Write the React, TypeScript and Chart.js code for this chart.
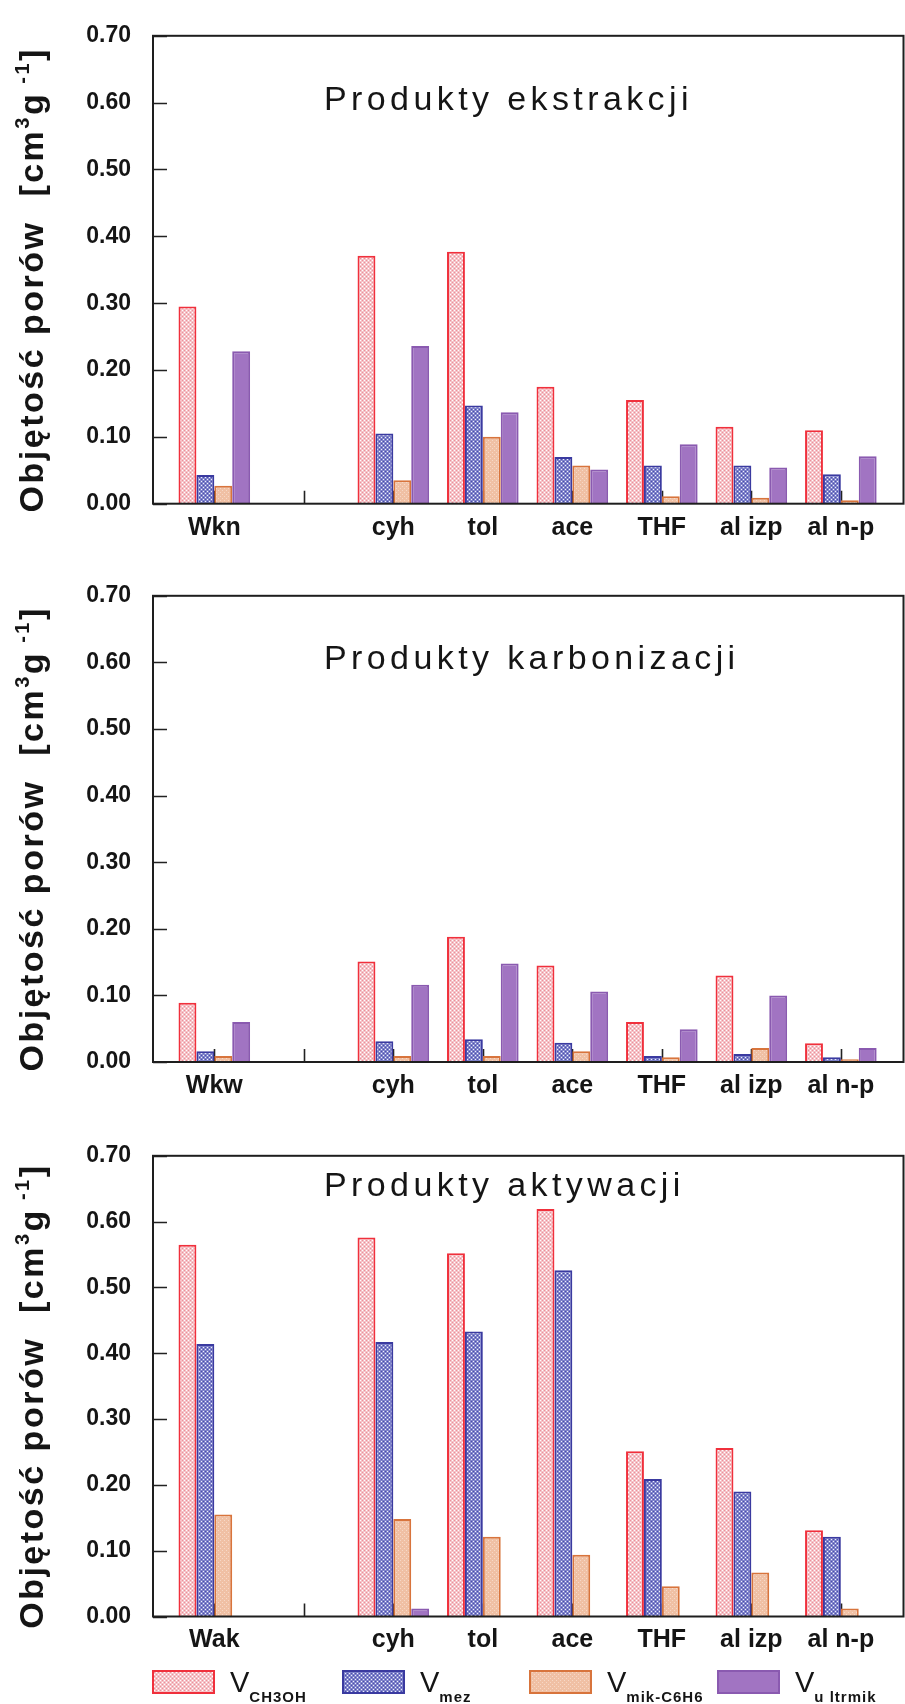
import React, { useEffect, useRef } from 'react';
import { Chart, registerables } from 'chart.js';

Chart.register(...registerables);
Chart.defaults.font.family = "'Liberation Sans', Arial, sans-serif";

// ---- data ----
const labelsExt = ['Wkn', '', 'cyh', 'tol', 'ace', 'THF', 'al izp', 'al n-p'];
const labelsCarb = ['Wkw', '', 'cyh', 'tol', 'ace', 'THF', 'al izp', 'al n-p'];
const labelsAct = ['Wak', '', 'cyh', 'tol', 'ace', 'THF', 'al izp', 'al n-p'];

const yTickValues = [0, 0.1, 0.2, 0.3, 0.4, 0.5, 0.6, 0.7];

const seriesNames = ['VCH3OH', 'Vmez', 'Vmik-C6H6', 'Vultrmik'];
const seriesSubs = ['CH3OH', 'mez', 'mik-C6H6', 'u ltrmik'];

const ext_ch3oh = [0.295, 0.371, 0.377, 0.175, 0.155, 0.115, 0.110];
const ext_mez = [0.043, 0.105, 0.147, 0.070, 0.057, 0.057, 0.044];
const ext_mik = [0.027, 0.035, 0.100, 0.057, 0.011, 0.009, 0.005];
const ext_ultr = [0.228, 0.236, 0.137, 0.051, 0.089, 0.054, 0.071];

const carb_ch3oh = [0.089, 0.151, 0.188, 0.145, 0.060, 0.130, 0.028];
const carb_mez = [0.016, 0.031, 0.034, 0.029, 0.009, 0.012, 0.007];
const carb_mik = [0.009, 0.009, 0.009, 0.016, 0.007, 0.021, 0.004];
const carb_ultr = [0.060, 0.116, 0.148, 0.106, 0.049, 0.100, 0.021];

const act_ch3oh = [0.565, 0.576, 0.552, 0.619, 0.251, 0.256, 0.131];
const act_mez = [0.414, 0.417, 0.433, 0.526, 0.209, 0.190, 0.121];
const act_mik = [0.155, 0.148, 0.121, 0.094, 0.046, 0.067, 0.012];
const act_ultr = [0, 0.012, 0, 0, 0, 0, 0];

const panelTitles = ['Produkty ekstrakcji', 'Produkty karbonizacji', 'Produkty aktywacji'];

// ---- styles ----
const borderColors = ['#f0303c', '#3a3aa0', '#d8743c', '#8a5ab0'];
const TEXT = '#151515';

function tile(w: number, h: number, base: string, dots: [number, number, string][]) {
  const c = document.createElement('canvas');
  c.width = w;
  c.height = h;
  const g = c.getContext('2d')!;
  g.fillStyle = base;
  g.fillRect(0, 0, w, h);
  dots.forEach(([x, y, col]) => {
    g.fillStyle = col;
    g.fillRect(x, y, 1, 1);
  });
  return c;
}

function makePatterns(ctx: CanvasRenderingContext2D) {
  const red = tile(4, 4, '#f5c3c8', [
    [0, 0, '#ffffff'], [2, 2, '#ffffff'], [0, 2, '#ec909a'], [2, 0, '#ec909a'],
  ]);
  const blue = tile(4, 4, '#7f83cb', [
    [1, 1, '#eef0fb'], [3, 3, '#eef0fb'], [1, 3, '#4a4dab'], [3, 1, '#4a4dab'],
  ]);
  const orange = tile(4, 4, '#f0c0a4', [[0, 0, '#f7d8c6'], [2, 2, '#f7d8c6']]);
  return [
    ctx.createPattern(red, 'repeat')!,
    ctx.createPattern(blue, 'repeat')!,
    ctx.createPattern(orange, 'repeat')!,
    '#a174c2',
  ] as any[];
}

type PanelDef = {
  top: number;
  h: number;
  areaTop: number;
  areaBottom: number;
  xHeight: number;
  labelPad: number;
  labels: string[];
  values: number[][];
  title: string;
  titleDy: number;
  legend: boolean;
};

const panels: PanelDef[] = [
  {
    top: 0, h: 560, areaTop: 22.7, areaBottom: 503.7, xHeight: 50, labelPad: 9,
    labels: labelsExt, values: [ext_ch3oh, ext_mez, ext_mik, ext_ultr],
    title: panelTitles[0], titleDy: 74, legend: false,
  },
  {
    top: 560, h: 560, areaTop: 20.5, areaBottom: 502, xHeight: 50, labelPad: 9,
    labels: labelsCarb, values: [carb_ch3oh, carb_mez, carb_mik, carb_ultr],
    title: panelTitles[1], titleDy: 73.5, legend: false,
  },
  {
    top: 1120, h: 584, areaTop: 15, areaBottom: 496.5, xHeight: 50, labelPad: 9,
    labels: labelsAct, values: [act_ch3oh, act_mez, act_mik, act_ultr],
    title: panelTitles[2], titleDy: 40, legend: true,
  },
];

function drawYTitle(ctx: CanvasRenderingContext2D, cx: number, cy: number) {
  const segs = [
    { t: 'Objętość porów  [cm', s: 34, dy: 0 },
    { t: '3', s: 20, dy: -14 },
    { t: 'g', s: 34, dy: 0 },
    { t: ' -1', s: 20, dy: -14 },
    { t: ']', s: 34, dy: 0 },
  ];
  ctx.save();
  (ctx as any).letterSpacing = '2.5px';
  ctx.translate(cx, cy);
  ctx.rotate(-Math.PI / 2);
  ctx.fillStyle = TEXT;
  ctx.textBaseline = 'alphabetic';
  ctx.textAlign = 'left';
  let total = 0;
  const widths = segs.map((g) => {
    ctx.font = `bold ${g.s}px 'Liberation Sans', Arial, sans-serif`;
    const w = ctx.measureText(g.t).width;
    total += w;
    return w;
  });
  let x = -total / 2;
  segs.forEach((g, i) => {
    ctx.font = `bold ${g.s}px 'Liberation Sans', Arial, sans-serif`;
    ctx.fillText(g.t, x, 12 + g.dy);
    x += widths[i];
  });
  ctx.restore();
}

function makeConfig(p: PanelDef, patterns: any[]) {
  const slots = p.labels.map((l, i) => (l ? i : -1)).filter((i) => i >= 0);
  const datasets = p.values.map((vals, k) => ({
    label: seriesNames[k],
    data: vals.map((v, i) => ({ x: slots[i], y: v })),
    backgroundColor: patterns[k],
    borderColor: borderColors[k],
    borderWidth: 2,
    borderSkipped: 'start' as const,
    barPercentage: 1,
    categoryPercentage: 0.8,
  }));

  const framePlugin = {
    id: 'frame' + p.top,
    beforeDatasetsDraw(chart: any) {
      const { ctx, chartArea: a, scales } = chart;
      ctx.save();
      ctx.strokeStyle = '#222';
      ctx.lineWidth = 1.6;
      ctx.beginPath();
      scales.y.ticks.forEach((t: any) => {
        const py = Math.round(scales.y.getPixelForValue(t.value)) + 0.5;
        ctx.moveTo(a.left, py);
        ctx.lineTo(a.left + 14, py);
      });
      scales.x.ticks.forEach((t: any) => {
        const px = Math.round(scales.x.getPixelForValue(t.value)) + 0.5;
        ctx.moveTo(px, a.bottom);
        ctx.lineTo(px, a.bottom - 13);
      });
      ctx.stroke();
      ctx.restore();
    },
    afterDatasetsDraw(chart: any) {
      const { ctx, chartArea: a } = chart;
      ctx.save();
      ctx.strokeStyle = '#1e1e1e';
      ctx.lineWidth = 2;
      ctx.strokeRect(a.left, a.top, a.right - a.left, a.bottom - a.top);
      ctx.restore();
    },
    afterDraw(chart: any) {
      const { ctx, chartArea: a } = chart;
      // panel title
      ctx.save();
      (ctx as any).letterSpacing = '4.4px';
      ctx.font = "34px 'Liberation Sans', Arial, sans-serif";
      ctx.fillStyle = TEXT;
      ctx.textAlign = 'left';
      ctx.textBaseline = 'alphabetic';
      ctx.fillText(p.title, 324, a.top + p.titleDy);
      ctx.restore();
      // y axis title
      drawYTitle(ctx, 31, (a.top + a.bottom) / 2 + 10);
      // legend
      if (p.legend) {
        const boxX = [152, 342, 529, 717];
        const boxY = 550;
        ctx.save();
        boxX.forEach((bx, k) => {
          ctx.fillStyle = patterns[k];
          ctx.fillRect(bx, boxY, 63, 24);
          ctx.strokeStyle = borderColors[k];
          ctx.lineWidth = 2;
          ctx.strokeRect(bx + 1, boxY + 1, 61, 22);
          const vx = bx + 63 + 15;
          ctx.fillStyle = TEXT;
          ctx.textAlign = 'left';
          ctx.textBaseline = 'alphabetic';
          (ctx as any).letterSpacing = '0px';
          ctx.font = "29px 'Liberation Sans', Arial, sans-serif";
          ctx.fillText('V', vx, boxY + 22);
          const vw = ctx.measureText('V').width;
          (ctx as any).letterSpacing = '1px';
          ctx.font = "bold 15px 'Liberation Sans', Arial, sans-serif";
          ctx.fillText(seriesSubs[k], vx + vw, boxY + 32);
        });
        ctx.restore();
      }
    },
  };

  return {
    type: 'bar' as const,
    data: { datasets },
    options: {
      animation: false as const,
      responsive: false,
      maintainAspectRatio: false,
      events: [],
      layout: {
        padding: { top: p.areaTop, right: 1.5, bottom: p.h - p.areaBottom - p.xHeight, left: 0 },
      },
      plugins: {
        legend: { display: false },
        tooltip: { enabled: false },
        title: { display: false },
      },
      scales: {
        x: {
          type: 'linear' as const,
          min: -0.685,
          max: 7.7,
          offset: false,
          grid: { display: false, drawTicks: false, offset: false },
          border: { display: false },
          ticks: {
            stepSize: 1,
            includeBounds: false,
            autoSkip: false,
            maxRotation: 0,
            minRotation: 0,
            padding: p.labelPad,
            color: TEXT,
            font: { size: 25, weight: 'bold' as const },
            callback: (v: any) => p.labels[Math.round(Number(v))] ?? '',
          },
          afterFit: (s: any) => {
            s.height = p.xHeight;
          },
        },
        y: {
          type: 'linear' as const,
          min: 0,
          max: 0.7,
          grid: { display: false, drawTicks: false },
          border: { display: false },
          afterBuildTicks: (s: any) => {
            s.ticks = yTickValues.map((v) => ({ value: v }));
          },
          ticks: {
            stepSize: 0.1,
            padding: 22,
            color: TEXT,
            font: { size: 23, weight: 'bold' as const },
            callback: (v: any) => Number(v).toFixed(2),
          },
          afterFit: (s: any) => {
            s.width = 153;
          },
        },
      },
    },
    plugins: [framePlugin],
  };
}

function Panel({ p }: { p: PanelDef }) {
  const ref = useRef<HTMLCanvasElement>(null);
  useEffect(() => {
    const canvas = ref.current!;
    const ctx = canvas.getContext('2d')!;
    const patterns = makePatterns(ctx);
    const cfg: any = makeConfig(p, patterns);
    const chart = new Chart(canvas, cfg);
    // make the plot area land exactly where the reference has it
    for (let i = 0; i < 4; i++) {
      const a = chart.chartArea;
      const dTop = p.areaTop - a.top;
      const dBot = p.areaBottom - a.bottom;
      const dRight = 903.5 - a.right;
      if (Math.abs(dTop) < 0.2 && Math.abs(dBot) < 0.2 && Math.abs(dRight) < 0.2) break;
      const pad = cfg.options.layout.padding;
      pad.top += dTop;
      pad.bottom -= dBot;
      pad.right -= dRight;
      chart.update();
    }
    return () => chart.destroy();
  }, []);
  return (
    <canvas
      ref={ref}
      width={905}
      height={p.h}
      style={{ position: 'absolute', left: 0, top: p.top, width: 905, height: p.h, display: 'block' }}
    />
  );
}

export default function App() {
  return (
    <div style={{ position: 'absolute', left: 0, top: 0, width: 905, height: 1704, background: '#fff' }}>
      {panels.map((p) => (
        <Panel key={p.top} p={p} />
      ))}
    </div>
  );
}
